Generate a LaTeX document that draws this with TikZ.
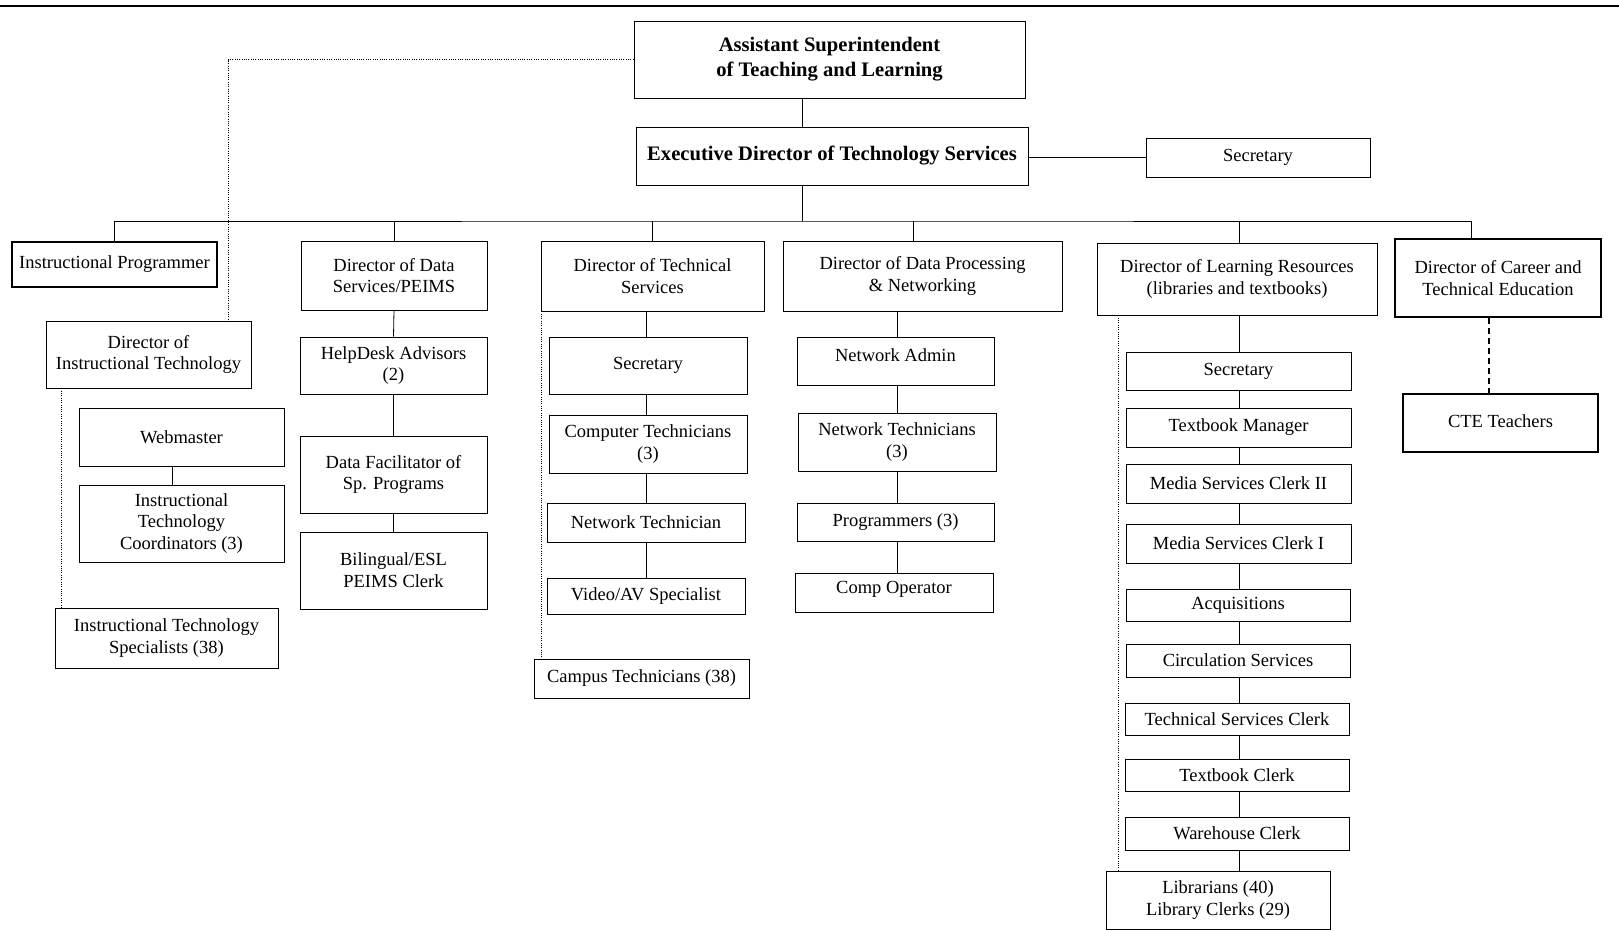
\documentclass[tikz,border=0pt]{standalone}
\usepackage{fontspec}
\setmainfont{Liberation Serif}
\begin{document}
\begin{tikzpicture}[x=1pt,y=-1pt,
  every node/.style={inner sep=0pt, align=center},
  box/.style={draw, line width=0.9pt, font=\fontsize{18.5}{21.7}\selectfont},
  thickbox/.style={box, line width=2pt},
  headbox/.style={draw, line width=0.9pt, font=\fontsize{20.6}{25}\selectfont\bfseries},
  link/.style={line width=0.8pt},
  dotlink/.style={line width=0.8pt, dash pattern=on 1pt off 1.3pt},
  dashlink/.style={line width=2.4pt, dash pattern=on 6pt off 4pt}]
\useasboundingbox (0,0) rectangle (1619,930);

% rule across the top of the page
\draw[line width=1.6pt] (0,6) -- (1619,6);

% top of the chart
\node[headbox, minimum width=391, minimum height=77] (asst) at (829.5,59.5) {Assistant Superintendent\\of Teaching and Learning};
\node[headbox, minimum width=392, minimum height=58] (exec) at (832,156) {Executive Director of Technology Services};
\node[box, minimum width=224, minimum height=39] (sec) at (1258,157.5) {Secretary};

% directors
\node[thickbox, minimum width=205, minimum height=45] (ip) at (114.5,264.5) {Instructional Programmer};
\node[box, minimum width=186, minimum height=69] (dds) at (394,275.5) {Director of Data\\Services/PEIMS};
\node[box, minimum width=223, minimum height=70] (dts) at (652.5,276) {Director of Technical\\Services};
\node[box, minimum width=279, minimum height=70] (ddp) at (922.5,276) {Director of Data Processing\\\& Networking};
\node[box, minimum width=280, minimum height=72] (dlr) at (1237,279) {Director of Learning Resources\\(libraries and textbooks)};
\node[thickbox, minimum width=206, minimum height=78] (dcte) at (1498,278) {Director of Career and\\Technical Education};

% instructional technology
\node[box, minimum width=205, minimum height=67] (dit) at (148.5,354.5) {Director of\\Instructional Technology};
\node[box, minimum width=205, minimum height=58] (web) at (181.5,437) {Webmaster};
\node[box, minimum width=205, minimum height=77] (itc) at (181.5,523.5) {Instructional\\Technology\\Coordinators (3)};
\node[box, minimum width=223, minimum height=60] (its) at (166.5,638) {Instructional Technology\\Specialists (38)};

% data services
\node[box, minimum width=187, minimum height=57] (help) at (393.5,365.5) {HelpDesk Advisors\\(2)};
\node[box, minimum width=187, minimum height=77] (fac) at (393.5,474.5) {Data Facilitator of\\Sp. Programs};
\node[box, minimum width=187, minimum height=77] (bil) at (393.5,570.5) {Bilingual/ESL\\PEIMS Clerk};

% technical services
\node[box, minimum width=198, minimum height=57] (tsec) at (648,365.5) {Secretary};
\node[box, minimum width=198, minimum height=58] (ctech) at (648,444) {Computer Technicians\\(3)};
\node[box, minimum width=198, minimum height=39] (ntech) at (646,522.5) {Network Technician};
\node[box, minimum width=198, minimum height=36] (vav) at (646,596) {Video/AV Specialist};
\node[box, minimum width=215, minimum height=39] (campus) at (641.5,678.5) {Campus Technicians (38)};

% data processing and networking
\node[box, minimum width=197, minimum height=48] (nadm) at (895.5,361) {\raisebox{6pt}[\height][\depth]{Network Admin}};
\node[box, minimum width=198, minimum height=58] (ntechs) at (897,442) {Network Technicians\\(3)};
\node[box, minimum width=197, minimum height=38] (prog) at (895.5,522) {Programmers (3)};
\node[box, minimum width=198, minimum height=39] (comp) at (894,592.5) {\raisebox{3pt}[\height][\depth]{Comp Operator}};

% learning resources
\node[box, minimum width=225, minimum height=38] (lsec) at (1238.5,371) {Secretary};
\node[box, minimum width=225, minimum height=39] (tbm) at (1238.5,427.5) {Textbook Manager};
\node[box, minimum width=225, minimum height=39] (ms2) at (1238.5,483.5) {Media Services Clerk II};
\node[box, minimum width=225, minimum height=39] (ms1) at (1238.5,543.5) {Media Services Clerk I};
\node[box, minimum width=224, minimum height=32] (acq) at (1238,605) {Acquisitions};
\node[box, minimum width=224, minimum height=33] (circ) at (1238,660.5) {Circulation Services};
\node[box, minimum width=224, minimum height=32] (tsc) at (1237,719) {Technical Services Clerk};
\node[box, minimum width=224, minimum height=32] (tbc) at (1237,775) {Textbook Clerk};
\node[box, minimum width=224, minimum height=33] (wh) at (1237,833.5) {Warehouse Clerk};
\node[box, minimum width=224, minimum height=58] (lib) at (1218,900) {Librarians (40)\\Library Clerks (29)};

% career and technical education
\node[thickbox, minimum width=195, minimum height=58] (cte) at (1500.5,423) {\raisebox{2pt}[\height][\depth]{CTE Teachers}};

% line positions
\coordinate (bus) at (802,221);
\coordinate (ddpX) at (913,0);
\coordinate (cteX) at (1471,0);
\coordinate (colT) at (646,0);
\coordinate (colP) at (897,0);
\coordinate (colL) at (1239,0);
\coordinate (colI) at (172,0);
\coordinate (ditIn) at (228,321);
\coordinate (ditOut) at (61,0);
\coordinate (dtsOut) at (541,0);
\coordinate (dlrOut) at (1118,0);
\coordinate (cteLink) at (1489,0);

% solid reporting lines
\draw[link] (asst.south -| bus) -- (exec.north -| bus);
\draw[link] (sec.west -| exec.east) -- (sec.west);
\draw[link] (exec.south -| bus) -- (bus);
\draw[link] (ip.north) |- (bus) -| (dcte.north -| cteX);
\draw[link] (dds.north) -- (dds.north |- bus);
\draw[link] (dts.north) -- (dts.north |- bus);
\draw[link] (ddp.north -| ddpX) -- (bus -| ddpX);
\draw[link] (dlr.north -| colL) -- (bus -| colL);

\draw[link] (web.south -| colI) -- (itc.north -| colI);
\foreach \a/\b in {dds/help, help/fac, fac/bil}
  \draw[link] (\a.south) -- (\b.north);
\foreach \a/\b in {dts/tsec, tsec/ctech, ctech/ntech, ntech/vav}
  \draw[link] (\a.south -| colT) -- (\b.north -| colT);
\foreach \a/\b in {ddp/nadm, nadm/ntechs, ntechs/prog, prog/comp}
  \draw[link] (\a.south -| colP) -- (\b.north -| colP);
\foreach \a/\b in {dlr/lsec, lsec/tbm, tbm/ms2, ms2/ms1, ms1/acq, acq/circ, circ/tsc, tsc/tbc, tbc/wh, wh/lib}
  \draw[link] (\a.south -| colL) -- (\b.north -| colL);

% dotted lines
\draw[dotlink] (asst.west) -| (ditIn);
\draw[dotlink] (dit.south -| ditOut) -- (its.north -| ditOut);
\draw[dotlink] (dts.south -| dtsOut) -- (campus.north -| dtsOut);
\draw[dotlink] (dlr.south -| dlrOut) -- (lib.north -| dlrOut);

% dashed line to the teachers
\draw[dashlink] (dcte.south -| cteLink) -- (cte.north -| cteLink);
\end{tikzpicture}
\end{document}
